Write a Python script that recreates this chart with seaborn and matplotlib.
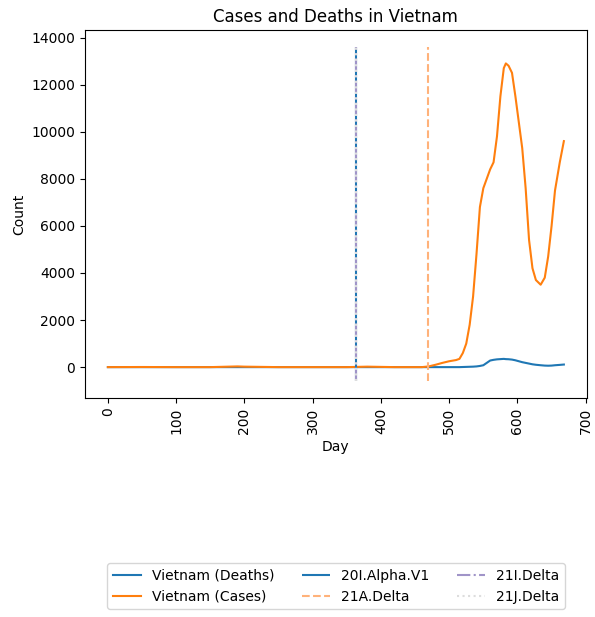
import numpy as np
import pandas as pd
import matplotlib
matplotlib.use("Agg")
import matplotlib.pyplot as plt
import seaborn as sns

# Daily values (days since first record)
days = [0, 50, 100, 150, 190, 200, 250, 300, 350, 380, 420, 460, 470, 480, 490, 500, 510,
        515, 520, 525, 530, 535, 540, 545, 550, 555, 560, 565, 570, 575, 580, 583, 587,
        592, 597, 602, 607, 612, 617, 622, 627, 634, 640, 645, 650, 655, 662, 668]
cases = [0, 5, 0, 0, 30, 20, 0, 0, 0, 20, 0, 0, 30, 100, 180, 250, 300,
         350, 600, 1000, 1800, 3000, 4800, 6800, 7600, 8000, 8400, 8700, 9800, 11500, 12700, 12900, 12800,
         12500, 11500, 10400, 9300, 7600, 5400, 4200, 3700, 3500, 3800, 4700, 6000, 7500, 8700, 9600]
deaths = [0, 0, 0, 0, 0, 0, 0, 0, 0, 0, 0, 0, 0, 0, 0, 0, 0,
          0, 5, 10, 15, 20, 30, 50, 80, 180, 280, 310, 330, 340, 350, 340, 335,
          320, 290, 250, 210, 180, 150, 120, 100, 80, 65, 60, 65, 80, 95, 110]

variants = ["20I.Alpha.V1", "21A.Delta", "21I.Delta", "21J.Delta"]
variant_days = [364, 469, 364, 364]
variant_colors = ["#1f77b4", "#ffb27a", "#a094c8", "#dddddd"]
variant_styles = ["-", "--", "-.", ":"]

df = pd.DataFrame({"Day": days, "Deaths": deaths, "Cases": cases})

fig = plt.figure(figsize=(5.95, 6.17), dpi=100)
ax = fig.add_axes([0.143, 0.355, 0.843, 0.596])
sns.lineplot(data=df, x="Day", y="Deaths", ax=ax, color="#1f77b4", label="Vietnam (Deaths)")
sns.lineplot(data=df, x="Day", y="Cases", ax=ax, color="#ff7f0e", label="Vietnam (Cases)")

for name, d, c, ls in zip(variants, variant_days, variant_colors, variant_styles):
    ax.vlines(d, -600, 13600, colors=c, linestyles=ls, label=name, linewidth=1.5)

ax.set_title("Cases and Deaths in Vietnam")
ax.set_xlabel("Day")
ax.set_ylabel("Count")
ax.set_xticks(range(0, 701, 100))
ax.tick_params(axis="x", rotation=90)
ax.legend(loc="upper center", bbox_to_anchor=(0.5, -0.43), ncol=3)

fig.savefig("out.png", dpi=100)
